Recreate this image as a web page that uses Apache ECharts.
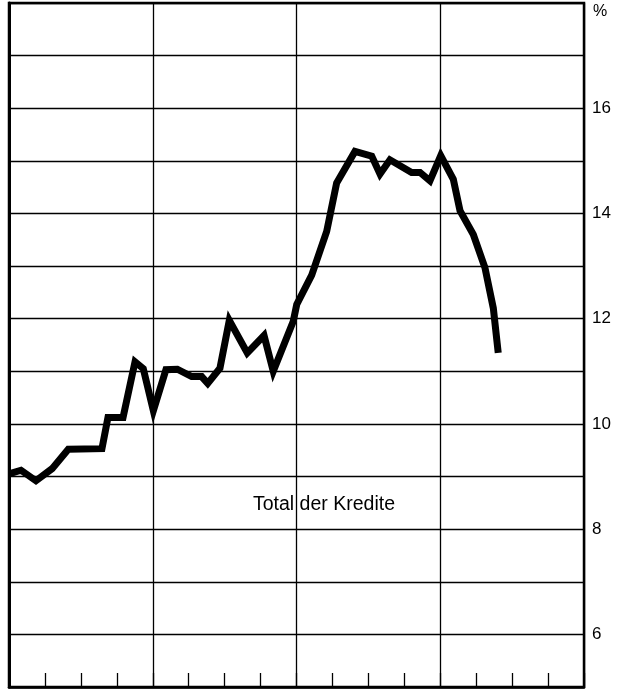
<!DOCTYPE html>
<html>
<head>
<meta charset="utf-8">
<script src="https://cdn.jsdelivr.net/npm/echarts@6/dist/echarts.min.js"></script>
<style>
html,body{margin:0;padding:0;background:#fff;}
#chart{width:621px;height:689px;}
</style>
</head>
<body>
<div id="chart"></div>
<script>
// Months from the start of the chart (each vertical section = 12 months)
var months = [0, 1, 2.25, 3.6, 4.95, 7.76, 8.26, 9.52, 10.52, 11.21, 12.05, 13.1, 14.05, 15.25, 16.08, 16.59, 17.61, 18.39, 19.89, 21.29, 22.06, 23.73, 24.02, 25.27, 26.52, 27.35, 28.88, 30.28, 30.97, 31.8, 33.61, 34.31, 35.14, 36.04, 37.09, 37.65, 38.76, 39.73, 40.43, 40.84];
// Growth rate, total credits (%)
var rates = [9.05, 9.12, 8.92, 9.15, 9.52, 9.53, 10.12, 10.12, 11.18, 11.05, 10.25, 11.03, 11.04, 10.9, 10.9, 10.77, 11.06, 11.97, 11.35, 11.68, 11.0, 11.95, 12.27, 12.83, 13.66, 14.58, 15.18, 15.09, 14.75, 15.02, 14.78, 14.78, 14.62, 15.1, 14.65, 14.05, 13.6, 12.97, 12.2, 11.35];
var yTickLabels = [6, 8, 10, 12, 14, 16];
var seriesName = 'Total der Kredite';
var unitLabel = '%';

var data = months.map(function (m, i) { return [m, rates[i]]; });

var chart = echarts.init(document.getElementById('chart'), null, {renderer: 'canvas'});
var font = '"Liberation Sans", Arial, Helvetica, sans-serif';
chart.setOption({
  animation: false,
  backgroundColor: '#fff',
  grid: {left: 9, right: 37, top: 3, bottom: 2, show: true, borderColor: '#000', borderWidth: 2.5, backgroundColor: 'transparent'},
  xAxis: [
    {
      type: 'value', min: 0, max: 48, interval: 12, position: 'bottom',
      axisLine: {show: true, lineStyle: {color: '#000', width: 2.5}},
      axisTick: {show: false}, axisLabel: {show: false},
      splitLine: {show: true, lineStyle: {color: '#000', width: 1.3}}
    },
    {
      type: 'value', min: 0, max: 48, interval: 3, position: 'bottom',
      axisLine: {show: false},
      axisTick: {show: true, inside: true, length: 14, lineStyle: {color: '#000', width: 1.3}},
      axisLabel: {show: false}, splitLine: {show: false}
    }
  ],
  yAxis: {
    type: 'value', min: 5, max: 18, interval: 1, position: 'right',
    axisLine: {show: true, lineStyle: {color: '#000', width: 3}},
    axisTick: {show: false},
    axisLabel: {
      color: '#000', fontSize: 17, fontFamily: font, margin: 8,
      formatter: function (v) { return yTickLabels.indexOf(v) >= 0 ? String(v) : ''; }
    },
    splitLine: {show: true, lineStyle: {color: '#000', width: 1.3}}
  },
  graphic: [
    {type: 'text', left: 593, top: 4, style: {text: unitLabel, font: '16px ' + font, fill: '#000'}},
    {type: 'text', left: 253, top: 495, style: {text: seriesName, font: '19.5px ' + font, fill: '#000'}}
  ],
  series: [{
    name: seriesName, type: 'line', xAxisIndex: 0, data: data,
    showSymbol: false, smooth: false,
    lineStyle: {color: '#000', width: 7, join: 'miter'}
  }]
});
</script>
</body>
</html>
